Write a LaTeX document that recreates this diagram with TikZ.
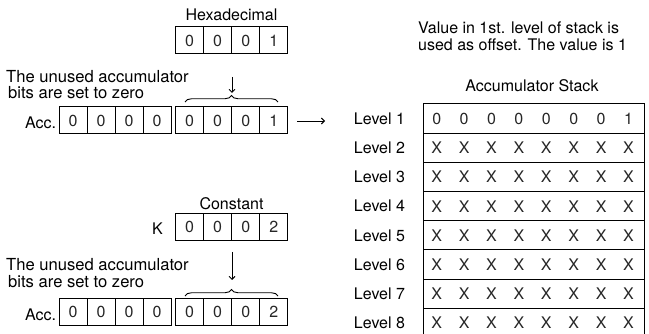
\documentclass[tikz,border=0pt]{standalone}
\usepackage{fontspec}
\setmainfont{TeX Gyre Heros}
\usetikzlibrary{arrows.meta,decorations.pathreplacing}
\begin{document}
\begin{tikzpicture}[x=1pt,y=-1pt,
  txt/.style={font=\fontsize{16}{18}\selectfont, inner sep=0pt},
  cell/.style={draw, line width=1pt, minimum width=28.1pt, minimum height=27pt, inner sep=0pt, font=\fontsize{16}{18}\selectfont, text=black!85},
  cellb/.style={cell, minimum width=28pt},
  rowbox/.style={draw, line width=1pt, minimum width=221pt, minimum height=29.2pt, inner sep=0pt},
  entry/.style={inner sep=0pt, font=\fontsize{16}{18}\selectfont, text=black!85},
  conn/.style={line width=0.9pt, -{Straight Barb[length=3pt,width=6pt]}},
  bracestyle/.style={line width=0.9pt, decorate, decoration={brace, amplitude=6.5pt}},
  note/.style={txt, anchor=base west, font=\fontsize{16.6}{18}\selectfont}]
\useasboundingbox (0,0) rectangle (649,334);
\clip (0,0) rectangle (649,334);

% ---------- top section ----------
\node[txt, anchor=base] (hexlbl) at (231.5,20.5) {Hexadecimal};
\foreach \v [count=\i from 0] in {0,0,0,1} {
  \node[cell] (h\i) at ({189.55+28.1*\i},40.5) {\v};
}
\coordinate (a1s) at (232,77);
\coordinate (a1e) at (232,93);
\draw[conn] (a1s) -- (a1e);
\coordinate (b1l) at (185,102);
\coordinate (b1r) at (278,102);
\draw[bracestyle] (b1l) -- (b1r);

\node[note] (un1a) at (6,82.3) {The unused accumulator};
\node[note] (un1b) at (8,98.6) {bits are set to zero};
\node[txt, anchor=base] (acc1lbl) at (40.5,128.3) {Acc.};
\foreach \v [count=\i from 0] in {0,0,0,0} {
  \node[cellb] (al\i) at ({73+28*\i},120.5) {\v};
}
\foreach \v [count=\i from 0] in {0,0,0,1} {
  \node[cell] (ar\i) at ({189.55+28.1*\i},120.5) {\v};
}
\coordinate (a2s) at (297,121);
\coordinate (a2e) at (325,121);
\draw[conn] (a2s) -- (a2e);

% ---------- bottom section ----------
\node[txt, anchor=base] (constlbl) at (231.5,209.5) {Constant};
\node[txt, anchor=base] (klbl) at (157.5,235) {K};
\foreach \v [count=\i from 0] in {0,0,0,2} {
  \node[cell] (k\i) at ({189.55+28.1*\i},227) {\v};
}
\coordinate (a3s) at (232,252);
\coordinate (a3e) at (232,280);
\draw[conn] (a3s) -- (a3e);
\coordinate (b2l) at (185,296);
\coordinate (b2r) at (278,296);
\draw[bracestyle] (b2l) -- (b2r);

\node[note] (un2a) at (6,271) {The unused accumulator};
\node[note] (un2b) at (8,287.5) {bits are set to zero};
\node[txt, anchor=base] (acc2lbl) at (40.5,320.5) {Acc.};
\foreach \v [count=\i from 0] in {0,0,0,0} {
  \node[cellb] (bl\i) at ({73+28*\i},312) {\v};
}
\foreach \v [count=\i from 0] in {0,0,0,2} {
  \node[cell] (br\i) at ({189.55+28.1*\i},312) {\v};
}

% ---------- right section ----------
\node[txt, anchor=base west] (val1) at (418,34) {Value in 1st. level of stack is};
\node[txt, anchor=base west] (val2) at (418,50.7) {used as offset. The value is 1};
\node[txt, anchor=base] (stacklbl) at (532,92) {Accumulator Stack};

\foreach \k in {1,...,8} {
  \node[rowbox] (row\k) at (533.8,{104+29.2*(\k-0.5)}) {};
  \node[txt] (lvl\k) at (379.5,{104+29.2*(\k-0.5)}) {Level \k};
}
\foreach \j in {0,...,6} {
  \node[entry] (e1\j) at ({436.7+27.4*\j},118.6) {0};
}
\node[entry] (e17) at ({436.7+27.4*7},118.6) {1};
\foreach \k in {2,...,8} {
  \foreach \j in {0,...,7} {
    \node[entry] (e\k\j) at ({436.7+27.4*\j},{104+29.2*(\k-0.5)}) {X};
  }
}
\end{tikzpicture}
\end{document}
